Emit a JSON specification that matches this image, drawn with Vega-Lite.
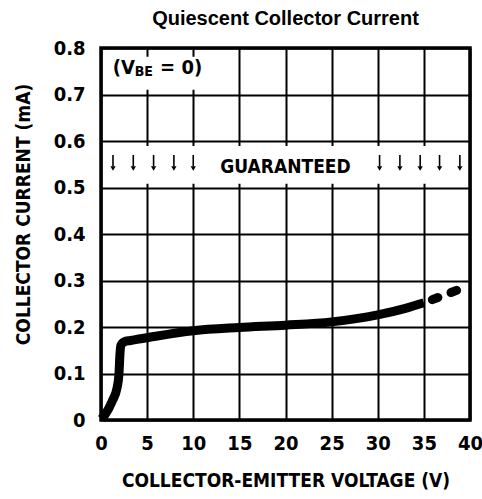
{
  "$schema": "https://vega.github.io/schema/vega-lite/v6.json",
  "width": 369,
  "height": 372,
  "autosize": {"type": "none"},
  "padding": {"left": 101, "top": 48, "right": 12, "bottom": 79},
  "background": "white",
  "title": {
    "text": "Quiescent Collector Current",
    "font": "Liberation Sans",
    "fontSize": 20,
    "fontWeight": "bold",
    "color": "black",
    "anchor": "middle",
    "offset": 9
  },
  "config": {
    "view": {"stroke": "black", "strokeWidth": 3.5},
    "axis": {
      "grid": true,
      "gridColor": "black",
      "gridWidth": 2,
      "gridOpacity": 1,
      "ticks": false,
      "domain": false,
      "labelFont": "DejaVu Sans Condensed",
      "labelFontWeight": "bold",
      "labelFontSize": 20,
      "labelColor": "black",
      "titleFont": "DejaVu Sans Condensed",
      "titleFontWeight": "bold",
      "titleFontSize": 19,
      "titleColor": "black"
    }
  },
  "datasets": {
    "curve": [
      {"v": 0.05, "i": 0.002, "seg": "solid"},
      {"v": 0.45, "i": 0.012, "seg": "solid"},
      {"v": 1.2, "i": 0.04, "seg": "solid"},
      {"v": 1.75, "i": 0.07, "seg": "solid"},
      {"v": 1.95, "i": 0.1, "seg": "solid"},
      {"v": 2.05, "i": 0.14, "seg": "solid"},
      {"v": 2.15, "i": 0.16, "seg": "solid"},
      {"v": 2.5, "i": 0.168, "seg": "solid"},
      {"v": 3.2, "i": 0.171, "seg": "solid"},
      {"v": 5, "i": 0.177, "seg": "solid"},
      {"v": 10, "i": 0.192, "seg": "solid"},
      {"v": 15, "i": 0.199, "seg": "solid"},
      {"v": 20, "i": 0.204, "seg": "solid"},
      {"v": 25, "i": 0.211, "seg": "solid"},
      {"v": 30, "i": 0.226, "seg": "solid"},
      {"v": 33, "i": 0.24, "seg": "solid"},
      {"v": 35, "i": 0.252, "seg": "solid"},
      {"v": 35, "i": 0.252, "seg": "dashed"},
      {"v": 37, "i": 0.267, "seg": "dashed"},
      {"v": 39.1, "i": 0.283, "seg": "dashed"}
    ],
    "boxes": [
      {"v": 0.25, "v2": 11.6, "i": 0.71, "i2": 0.781},
      {"v": 0.25, "v2": 39.7, "i": 0.508, "i2": 0.589}
    ],
    "arrows": [
      {"v": 1.3, "i": 0.57, "i2": 0.545},
      {"v": 3.5, "i": 0.57, "i2": 0.545},
      {"v": 5.7, "i": 0.57, "i2": 0.545},
      {"v": 7.9, "i": 0.57, "i2": 0.545},
      {"v": 10.0, "i": 0.57, "i2": 0.545},
      {"v": 30.2, "i": 0.57, "i2": 0.545},
      {"v": 32.4, "i": 0.57, "i2": 0.545},
      {"v": 34.6, "i": 0.57, "i2": 0.545},
      {"v": 36.7, "i": 0.57, "i2": 0.545},
      {"v": 38.9, "i": 0.57, "i2": 0.545}
    ],
    "heads": [
      {"v": 1.3, "i": 0.541},
      {"v": 3.5, "i": 0.541},
      {"v": 5.7, "i": 0.541},
      {"v": 7.9, "i": 0.541},
      {"v": 10.0, "i": 0.541},
      {"v": 30.2, "i": 0.541},
      {"v": 32.4, "i": 0.541},
      {"v": 34.6, "i": 0.541},
      {"v": 36.7, "i": 0.541},
      {"v": 38.9, "i": 0.541}
    ],
    "bigtext": [
      {"v": 1.27, "i": 0.758, "t": "(V"},
      {"v": 6.4, "i": 0.758, "t": "= 0)"}
    ],
    "subtext": [
      {"v": 3.65, "i": 0.749, "t": "BE"}
    ],
    "guar": [
      {"v": 20.0, "i": 0.544, "t": "GUARANTEED"}
    ]
  },
  "encoding": {
    "x": {
      "field": "v",
      "type": "quantitative",
      "scale": {"domain": [0, 40], "nice": false},
      "axis": {
        "values": [0, 5, 10, 15, 20, 25, 30, 35, 40],
        "labelPadding": 13,
        "labelFlush": false,
        "title": "COLLECTOR-EMITTER VOLTAGE (V)",
        "titlePadding": 18
      }
    },
    "y": {
      "field": "i",
      "type": "quantitative",
      "scale": {"domain": [0, 0.8], "nice": false},
      "axis": {
        "values": [0, 0.1, 0.2, 0.3, 0.4, 0.5, 0.6, 0.7, 0.8],
        "labelExpr": "datum.value == 0 ? '0' : format(datum.value, '.1f')",
        "labelPadding": 16,
        "labelFlush": false,
        "title": "COLLECTOR CURRENT (mA)",
        "titlePadding": 20,
        "titleY": 166
      }
    }
  },
  "layer": [
    {
      "data": {"name": "boxes"},
      "mark": {"type": "rect", "fill": "white", "stroke": null},
      "encoding": {"x2": {"field": "v2"}, "y2": {"field": "i2"}}
    },
    {
      "data": {"name": "arrows"},
      "mark": {"type": "rule", "color": "black", "strokeWidth": 1.6},
      "encoding": {"y2": {"field": "i2"}}
    },
    {
      "data": {"name": "heads"},
      "mark": {"type": "point", "shape": "triangle-down", "filled": true, "color": "black", "size": 28, "opacity": 1}
    },
    {
      "data": {"name": "bigtext"},
      "mark": {"type": "text", "align": "left", "baseline": "middle", "font": "DejaVu Sans Condensed", "fontWeight": "bold", "fontSize": 20, "color": "black"},
      "encoding": {"text": {"field": "t"}}
    },
    {
      "data": {"name": "subtext"},
      "mark": {"type": "text", "align": "left", "baseline": "middle", "font": "DejaVu Sans Condensed", "fontWeight": "bold", "fontSize": 14, "color": "black"},
      "encoding": {"text": {"field": "t"}}
    },
    {
      "data": {"name": "guar"},
      "mark": {"type": "text", "align": "center", "baseline": "middle", "font": "DejaVu Sans Condensed", "fontWeight": "bold", "fontSize": 19, "color": "black"},
      "encoding": {"text": {"field": "t"}}
    },
    {
      "data": {"name": "curve"},
      "transform": [{"filter": "datum.seg == 'solid'"}],
      "mark": {"type": "line", "color": "black", "strokeWidth": 9, "interpolate": "monotone"}
    },
    {
      "data": {"name": "curve"},
      "transform": [{"filter": "datum.seg == 'dashed'"}],
      "mark": {"type": "line", "color": "black", "strokeWidth": 9, "interpolate": "monotone", "strokeDash": [6, 14], "strokeDashOffset": 11, "strokeCap": "round"}
    }
  ]
}
